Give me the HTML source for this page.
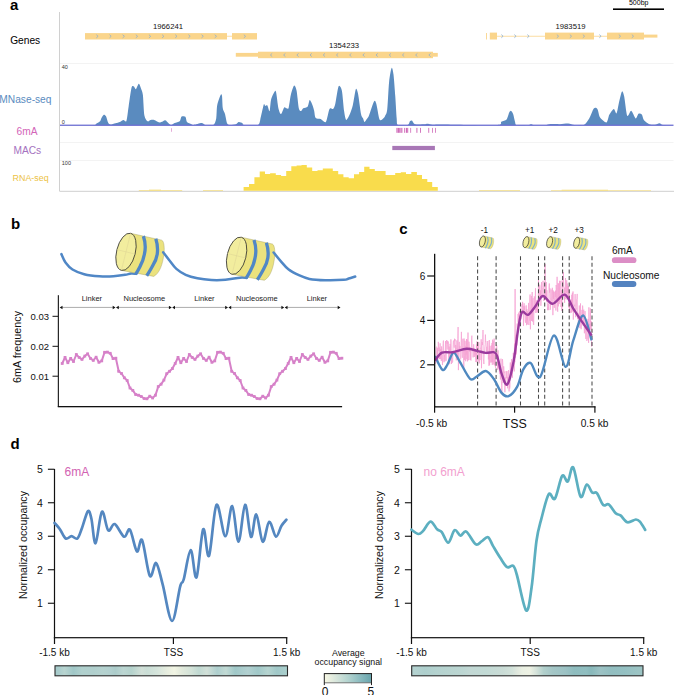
<!DOCTYPE html>
<html><head><meta charset="utf-8"><style>
html,body{margin:0;padding:0;background:#fff;}
svg{display:block;}
text{font-family:"Liberation Sans",sans-serif;}
</style></head><body>
<svg width="685" height="695" viewBox="0 0 685 695">
<rect width="685" height="695" fill="#fff"/>
<text x="10.00" y="9.70" font-size="15.00" fill="#000" text-anchor="start" font-weight="bold" >a</text>
<rect x="613" y="8.4" width="51" height="1.6" fill="#000"/>
<text x="638.70" y="5.30" font-size="7.00" fill="#000" text-anchor="middle" font-weight="normal" >500bp</text>
<text x="25.20" y="44.20" font-size="10.20" fill="#000" text-anchor="middle" font-weight="normal" >Genes</text>
<text x="25.40" y="103.30" font-size="10.20" fill="#5b8cc0" text-anchor="middle" font-weight="normal" >MNase-seq</text>
<text x="27.10" y="134.60" font-size="10.20" fill="#d365b8" text-anchor="middle" font-weight="normal" >6mA</text>
<text x="27.30" y="154.00" font-size="10.20" fill="#a572c0" text-anchor="middle" font-weight="normal" >MACs</text>
<text x="30.60" y="180.90" font-size="8.90" fill="#ecc244" text-anchor="middle" font-weight="normal" >RNA-seq</text>
<rect x="59" y="12" width="1" height="179.5" fill="#d0d0d0"/>
<rect x="60" y="63.0" width="613.5" height="0.8" fill="#f0f0f0"/>
<rect x="60" y="142.2" width="613.5" height="0.8" fill="#f0f0f0"/>
<rect x="60" y="160.0" width="613.5" height="0.8" fill="#f0f0f0"/>
<rect x="60" y="190.8" width="614" height="1" fill="#cfcfcf"/>
<text x="61.80" y="69.30" font-size="5.50" fill="#333" text-anchor="start" font-weight="normal" >40</text>
<text x="61.80" y="124.30" font-size="5.50" fill="#333" text-anchor="start" font-weight="normal" >0</text>
<text x="61.80" y="165.30" font-size="5.50" fill="#333" text-anchor="start" font-weight="normal" >100</text>
<rect x="226" y="35.8" width="6" height="0.8" fill="#fad58c"/>
<rect x="85" y="33.1" width="142" height="6.4" fill="#fad58c"/>
<rect x="232" y="33.1" width="25" height="6.4" fill="#fad58c"/>
<path d="M96.3,34.7 L98.1,36.3 L96.3,37.9 M109.5,34.7 L111.2,36.3 L109.5,37.9 M122.6,34.7 L124.4,36.3 L122.6,37.9 M135.8,34.7 L137.6,36.3 L135.8,37.9 M148.9,34.7 L150.7,36.3 L148.9,37.9 M162.1,34.7 L163.9,36.3 L162.1,37.9 M175.2,34.7 L177.0,36.3 L175.2,37.9 M188.4,34.7 L190.2,36.3 L188.4,37.9 M201.5,34.7 L203.3,36.3 L201.5,37.9 M214.7,34.7 L216.5,36.3 L214.7,37.9 " fill="none" stroke="#8aaed0" stroke-width="0.75"/>
<path d="M243.8,34.7 L245.6,36.3 L243.8,37.9 " fill="none" stroke="#8aaed0" stroke-width="0.75"/>
<text x="168.00" y="28.60" font-size="7.70" fill="#111" text-anchor="middle" font-weight="normal" >1966241</text>
<rect x="235.8" y="52.9" width="22.5" height="3.8" fill="#fad58c"/>
<rect x="258" y="51.7" width="175" height="6.5" fill="#fad58c"/>
<rect x="432" y="52.9" width="5.8" height="3.8" fill="#fad58c"/>
<path d="M272.2,53.4 L270.4,55.0 L272.2,56.6 M285.4,53.4 L283.6,55.0 L285.4,56.6 M298.6,53.4 L296.8,55.0 L298.6,56.6 M311.8,53.4 L310.0,55.0 L311.8,56.6 M325.0,53.4 L323.2,55.0 L325.0,56.6 M338.2,53.4 L336.4,55.0 L338.2,56.6 M351.4,53.4 L349.6,55.0 L351.4,56.6 M364.6,53.4 L362.8,55.0 L364.6,56.6 M377.8,53.4 L376.0,55.0 L377.8,56.6 M391.0,53.4 L389.2,55.0 L391.0,56.6 M404.2,53.4 L402.4,55.0 L404.2,56.6 M417.4,53.4 L415.6,55.0 L417.4,56.6 M430.6,53.4 L428.8,55.0 L430.6,56.6 " fill="none" stroke="#8aaed0" stroke-width="0.75"/>
<text x="344.00" y="47.50" font-size="7.70" fill="#111" text-anchor="middle" font-weight="normal" >1354233</text>
<rect x="486" y="33" width="0.9" height="6.5" fill="#fad58c"/>
<rect x="489.8" y="32.6" width="7.2" height="6.9" fill="#fad58c"/>
<rect x="497" y="35.8" width="110" height="0.8" fill="#fad58c"/>
<rect x="545" y="32.6" width="49" height="6.9" fill="#fad58c"/>
<rect x="607" y="32.6" width="37" height="6.9" fill="#fad58c"/>
<rect x="644" y="34.6" width="13.4" height="3.0" fill="#fad58c"/>
<path d="M501.3,34.6 L503.1,36.2 L501.3,37.8 M514.3,34.6 L516.1,36.2 L514.3,37.8 M527.3,34.6 L529.1,36.2 L527.3,37.8 " fill="none" stroke="#8aaed0" stroke-width="0.75"/>
<path d="M556.8,34.6 L558.6,36.2 L556.8,37.8 M569.8,34.6 L571.6,36.2 L569.8,37.8 M582.8,34.6 L584.6,36.2 L582.8,37.8 " fill="none" stroke="#8aaed0" stroke-width="0.75"/>
<path d="M599.3,34.6 L601.1,36.2 L599.3,37.8 " fill="none" stroke="#8aaed0" stroke-width="0.75"/>
<path d="M618.8,34.6 L620.6,36.2 L618.8,37.8 M631.8,34.6 L633.6,36.2 L631.8,37.8 " fill="none" stroke="#8aaed0" stroke-width="0.75"/>
<text x="570.50" y="28.50" font-size="7.70" fill="#111" text-anchor="middle" font-weight="normal" >1983519</text>
<path d="M60.00,125.20 C64.28,125.20 87.23,125.43 92.10,125.20 C96.97,124.97 95.43,124.02 96.50,123.50 C97.57,122.98 99.42,122.07 100.10,121.30 C100.78,120.53 101.11,118.58 101.60,117.70 C102.09,116.82 103.21,114.90 103.80,114.70 C104.39,114.50 105.41,115.12 106.00,116.20 C106.59,117.28 107.61,121.69 108.20,122.80 C108.79,123.91 109.43,124.45 110.40,124.50 C111.37,124.55 114.23,123.53 115.50,123.20 C116.77,122.87 118.83,122.41 119.90,122.00 C120.97,121.59 122.63,120.23 123.50,120.10 C124.37,119.97 125.72,122.79 126.40,121.00 C127.08,119.21 127.92,111.14 128.60,106.70 C129.28,102.26 130.82,90.42 131.50,87.70 C132.18,84.98 133.11,86.10 133.70,86.30 C134.29,86.50 135.22,89.53 135.90,89.20 C136.58,88.87 138.12,83.89 138.80,83.80 C139.48,83.71 140.45,87.01 141.00,88.50 C141.55,89.99 142.45,91.40 142.90,95.00 C143.35,98.60 143.77,111.99 144.40,115.50 C145.03,119.01 146.79,120.69 147.60,121.30 C148.41,121.91 149.62,120.29 150.50,120.10 C151.38,119.91 152.93,119.58 154.20,119.90 C155.47,120.22 158.55,122.45 160.00,122.50 C161.45,122.55 164.13,120.37 165.10,120.30 C166.07,120.23 166.53,121.37 167.30,122.00 C168.07,122.63 169.93,124.85 170.90,125.00 C171.87,125.15 173.43,123.59 174.60,123.10 C175.77,122.61 178.77,122.17 179.70,121.30 C180.63,120.43 180.83,117.19 181.60,116.60 C182.37,116.01 184.78,116.18 185.50,116.90 C186.22,117.62 186.21,121.03 187.00,122.00 C187.79,122.97 190.52,123.79 191.40,124.20 C192.28,124.61 192.24,125.25 193.60,125.10 C194.96,124.95 200.04,123.11 201.60,123.10 C203.16,123.09 203.74,124.75 205.30,125.00 C206.86,125.25 211.85,125.88 213.30,125.00 C214.75,124.12 215.68,121.03 216.20,118.40 C216.72,115.77 216.61,108.42 217.20,105.30 C217.79,102.18 219.96,96.27 220.60,95.00 C221.24,93.73 221.71,94.04 222.00,95.80 C222.29,97.56 222.40,105.77 222.80,108.20 C223.20,110.63 224.41,111.96 225.00,114.00 C225.59,116.04 226.53,122.03 227.20,123.50 C227.87,124.97 228.84,124.91 230.00,125.00 C231.16,125.09 234.73,124.60 235.90,124.20 C237.07,123.80 237.92,122.13 238.80,122.00 C239.68,121.87 241.81,122.80 242.50,123.20 C243.19,123.60 241.95,124.76 244.00,125.00 C246.05,125.24 255.66,126.07 257.90,125.00 C260.14,123.93 260.01,119.73 260.80,117.00 C261.59,114.27 263.21,105.97 263.80,104.50 C264.39,103.03 264.72,105.87 265.20,106.00 C265.68,106.13 266.81,104.82 267.40,105.50 C267.99,106.18 269.11,111.91 269.60,111.10 C270.09,110.29 270.42,102.03 271.10,99.40 C271.78,96.77 274.02,92.28 274.70,91.40 C275.38,90.52 275.71,90.56 276.20,92.80 C276.69,95.04 277.76,105.37 278.40,108.20 C279.04,111.03 280.23,114.11 281.00,114.00 C281.77,113.89 283.48,108.17 284.20,107.40 C284.92,106.63 285.81,108.13 286.40,108.20 C286.99,108.27 288.01,109.66 288.60,107.90 C289.19,106.14 290.07,97.99 290.80,95.00 C291.53,92.01 293.33,86.07 294.10,85.50 C294.87,84.93 295.97,87.67 296.60,90.70 C297.23,93.73 298.21,105.48 298.80,108.20 C299.39,110.92 300.41,111.10 301.00,111.10 C301.59,111.10 302.32,108.79 303.20,108.20 C304.08,107.61 306.73,107.78 307.60,106.70 C308.47,105.62 309.13,100.49 309.70,100.10 C310.27,99.71 311.31,102.43 311.90,103.80 C312.49,105.17 313.61,108.55 314.10,110.40 C314.59,112.25 314.72,116.54 315.60,117.70 C316.48,118.86 319.34,118.53 320.70,119.10 C322.06,119.67 324.63,123.36 325.80,122.00 C326.97,120.64 328.53,110.65 329.50,108.90 C330.47,107.15 332.33,109.58 333.10,108.90 C333.87,108.22 334.57,106.81 335.30,103.80 C336.03,100.79 337.72,88.05 338.60,86.30 C339.48,84.55 341.17,87.39 341.90,90.70 C342.63,94.01 343.53,107.21 344.10,111.10 C344.67,114.99 345.43,119.51 346.20,119.90 C346.97,120.29 349.02,115.95 349.90,114.00 C350.78,112.05 352.01,108.61 352.80,105.30 C353.59,101.99 355.11,90.76 355.80,89.20 C356.49,87.64 357.31,90.29 358.00,93.60 C358.69,96.91 360.32,110.69 361.00,114.00 C361.68,117.31 362.62,117.33 363.10,118.40 C363.58,119.47 364.11,121.91 364.60,122.00 C365.09,122.09 366.21,119.97 366.80,119.10 C367.39,118.23 368.03,117.87 369.00,115.50 C369.97,113.13 373.13,102.86 374.10,101.30 C375.07,99.74 375.62,101.52 376.30,103.80 C376.98,106.08 378.52,116.23 379.20,118.40 C379.88,120.57 380.63,120.39 381.40,120.10 C382.17,119.81 384.23,117.60 385.00,116.20 C385.77,114.80 386.65,114.17 387.20,109.60 C387.75,105.03 388.51,87.45 389.10,81.90 C389.69,76.35 391.01,68.97 391.60,68.00 C392.19,67.03 393.01,70.80 393.50,74.60 C393.99,78.40 394.87,90.66 395.30,96.50 C395.73,102.34 396.35,114.60 396.70,118.40 C397.05,122.20 396.43,124.12 397.90,125.00 C399.37,125.88 406.10,125.49 407.70,125.00 C409.30,124.51 409.33,121.89 409.90,121.30 C410.47,120.71 411.32,120.21 412.00,120.60 C412.68,120.99 413.24,123.72 415.00,124.20 C416.76,124.68 423.45,124.25 425.20,124.20 C426.95,124.15 427.13,123.72 428.10,123.80 C429.07,123.88 430.65,124.71 432.50,124.80 C434.35,124.89 433.53,124.45 442.00,124.50 C450.47,124.55 488.09,125.57 496.00,125.20 C503.91,124.83 499.89,122.45 501.30,121.70 C502.71,120.95 505.55,120.81 506.60,119.60 C507.65,118.39 508.61,113.77 509.20,112.60 C509.79,111.43 510.47,110.57 511.00,110.80 C511.53,111.03 512.67,112.85 513.20,114.30 C513.73,115.75 514.53,120.25 515.00,121.70 C515.47,123.15 515.02,124.73 516.70,125.20 C518.38,125.67 525.68,125.32 527.60,125.20 C529.52,125.08 530.17,124.30 531.10,124.30 C532.03,124.30 532.73,125.08 534.60,125.20 C536.47,125.32 542.99,125.35 545.10,125.20 C547.21,125.05 548.41,124.23 550.40,124.10 C552.39,123.97 557.63,124.28 560.00,124.20 C562.37,124.12 566.25,123.38 568.20,123.50 C570.15,123.62 572.53,124.89 574.60,125.10 C576.67,125.31 581.75,125.99 583.70,125.10 C585.65,124.21 587.85,120.63 589.20,118.40 C590.55,116.17 592.71,109.67 593.80,108.40 C594.89,107.13 596.56,107.69 597.40,108.90 C598.24,110.11 598.89,115.70 600.10,117.50 C601.31,119.30 605.27,122.77 606.50,122.40 C607.73,122.03 608.33,116.50 609.30,114.70 C610.27,112.90 612.83,109.09 613.80,108.90 C614.77,108.71 615.87,114.34 616.60,113.30 C617.33,112.26 618.58,104.02 619.30,101.10 C620.02,98.18 621.35,92.01 622.00,91.40 C622.65,90.79 623.51,93.26 624.20,96.50 C624.89,99.74 626.27,113.81 627.20,115.70 C628.13,117.59 630.07,110.34 631.20,110.70 C632.33,111.06 634.73,117.99 635.70,118.40 C636.67,118.81 637.69,114.33 638.50,113.80 C639.31,113.27 641.07,113.55 641.80,114.40 C642.53,115.25 642.99,118.89 644.00,120.20 C645.01,121.51 647.95,123.59 649.40,124.20 C650.85,124.81 653.55,124.92 654.90,124.80 C656.25,124.68 658.41,123.26 659.50,123.30 C660.59,123.34 661.23,124.85 663.10,125.10 C664.97,125.35 672.11,125.19 673.50,125.20 L673.5,125.2 L60,125.2 Z" fill="#5a8bbf"/>
<rect x="60" y="124.6" width="613.5" height="1.3" fill="#6d6fd2"/>
<rect x="396.4" y="127.9" width="1.2" height="4.9" fill="#cf6ab8"/>
<rect x="397.8" y="127.9" width="1.2" height="4.9" fill="#cf6ab8"/>
<rect x="399.2" y="127.9" width="1.2" height="4.9" fill="#cf6ab8"/>
<rect x="400.6" y="127.9" width="1.0" height="4.9" fill="#cf6ab8"/>
<rect x="401.6" y="127.9" width="0.8" height="4.9" fill="#cf6ab8"/>
<rect x="404.2" y="127.9" width="1.0" height="4.9" fill="#cf6ab8"/>
<rect x="406.0" y="127.9" width="1.0" height="4.9" fill="#cf6ab8"/>
<rect x="407.2" y="127.9" width="1.0" height="4.9" fill="#cf6ab8"/>
<rect x="410.3" y="127.9" width="0.8" height="4.9" fill="#cf6ab8"/>
<rect x="416.4" y="127.9" width="1.0" height="4.9" fill="#cf6ab8"/>
<rect x="420.0" y="127.9" width="0.9" height="4.9" fill="#cf6ab8"/>
<rect x="428.3" y="127.9" width="0.9" height="4.9" fill="#cf6ab8"/>
<rect x="432.1" y="127.9" width="0.8" height="4.9" fill="#cf6ab8"/>
<rect x="435.2" y="127.9" width="0.8" height="4.9" fill="#cf6ab8"/>
<rect x="171.2" y="128.2" width="0.7" height="3.6" fill="#d98ac8"/>
<rect x="392.3" y="145.9" width="42.6" height="4.2" fill="#a877b6"/>
<path d="M243.6,190.8 L243.6,187.1 L249.0,187.1 L249.0,183.9 L254.4,183.9 L254.4,177.2 L259.7,177.2 L259.7,171.5 L265.0,171.5 L265.0,174.0 L270.1,174.0 L270.1,173.3 L275.8,173.3 L275.8,175.1 L281.1,175.1 L281.1,175.9 L286.2,175.9 L286.2,171.1 L291.3,171.1 L291.3,166.2 L296.6,166.2 L296.6,165.4 L301.5,165.4 L301.5,165.1 L306.8,165.1 L306.8,167.5 L312.2,167.5 L312.2,171.1 L317.5,171.1 L317.5,170.3 L322.8,170.3 L322.8,168.6 L332.8,168.6 L332.8,171.1 L338.2,171.1 L338.2,174.3 L343.4,174.3 L343.4,177.2 L348.7,177.2 L348.7,178.3 L354.0,178.3 L354.0,174.3 L359.1,174.3 L359.1,171.9 L364.2,171.9 L364.2,166.7 L369.5,166.7 L369.5,169.1 L374.8,169.1 L374.8,171.1 L385.6,171.1 L385.6,175.1 L395.2,175.1 L395.2,173.0 L400.8,173.0 L400.8,172.3 L406.0,172.3 L406.0,174.0 L411.3,174.0 L411.3,171.9 L416.9,171.9 L416.9,175.1 L422.0,175.1 L422.0,179.1 L427.3,179.1 L427.3,182.0 L432.2,182.0 L432.2,187.1 L437.8,187.1 L437.8,190.8 Z" fill="#f9dc4c"/>
<rect x="138.8" y="190.0" width="43.4" height="0.8" fill="#f6e08a"/>
<rect x="149.0" y="189.6" width="12.0" height="1.2" fill="#f6e08a"/>
<rect x="203.0" y="190.0" width="20.0" height="0.8" fill="#f6e08a"/>
<rect x="479.0" y="190.0" width="41.0" height="0.8" fill="#f6e08a"/>
<rect x="551.0" y="190.1" width="100.0" height="0.7" fill="#f6e08a"/>
<rect x="561.6" y="189.7" width="46.4" height="1.1" fill="#f6e08a"/>
<text x="11.00" y="228.50" font-size="15.00" fill="#000" text-anchor="start" font-weight="bold" >b</text>
<path d="M61.40,254.10 C62.08,255.50 63.65,259.93 65.50,262.50 C67.35,265.07 69.38,267.55 72.50,269.50 C75.62,271.45 79.72,273.07 84.20,274.20 C88.68,275.33 94.53,275.95 99.40,276.30 C104.27,276.65 109.13,276.55 113.40,276.30 C117.67,276.05 122.07,275.25 125.00,274.80 C127.93,274.35 129.17,273.77 131.00,273.60 C132.83,273.43 135.17,273.77 136.00,273.80" fill="none" stroke="#5087c6" stroke-width="2.5" stroke-linecap="round"/>
<g transform="translate(0.00,0.00)"><path d="M130.6,233.3 L161.9,240.2 C164.3,241.6 164.6,249 163.9,254 C162.8,264 159.5,273.5 153.7,276.4 L121.5,270.4 Z" fill="#ebe27e" stroke="#a8a46a" stroke-width="0.45"/><path d="M143.4,236.1 C145.4,242 145.6,249 144.4,254.2 C143.6,258.5 142.2,262.5 140.3,265.9 C139,268.5 137.5,271.5 135.6,274.2 M155.8,238.8 C157.5,244 157.9,249.5 157.2,254.2 C156.6,258.5 154.8,262.5 152.6,265.9 C151,268.8 149,272.5 146.7,275.8" fill="none" stroke="#5087c6" stroke-width="3.3"/><ellipse cx="126" cy="251.85" rx="9.37" ry="19.08" transform="rotate(14 126 251.85)" fill="#f2ed9e" stroke="#2a2a2a" stroke-width="0.75"/><path d="M130.6,233.3 L121.4,270.4 M116.9,249.6 L135.1,254.1" stroke="#dcd294" stroke-width="0.5"/></g>
<path d="M163.20,252.20 C164.22,253.53 167.10,257.42 169.30,260.20 C171.50,262.98 173.67,266.47 176.40,268.90 C179.13,271.33 182.20,273.23 185.70,274.80 C189.20,276.37 193.12,277.43 197.40,278.30 C201.68,279.17 206.73,279.75 211.40,280.00 C216.07,280.25 220.63,280.18 225.40,279.80 C230.17,279.42 236.48,278.02 240.00,277.70 C243.52,277.38 245.42,277.87 246.50,277.90" fill="none" stroke="#5087c6" stroke-width="2.5" stroke-linecap="round"/>
<g transform="translate(110.60,3.90)"><path d="M130.6,233.3 L161.9,240.2 C164.3,241.6 164.6,249 163.9,254 C162.8,264 159.5,273.5 153.7,276.4 L121.5,270.4 Z" fill="#ebe27e" stroke="#a8a46a" stroke-width="0.45"/><path d="M143.4,236.1 C145.4,242 145.6,249 144.4,254.2 C143.6,258.5 142.2,262.5 140.3,265.9 C139,268.5 137.5,271.5 135.6,274.2 M155.8,238.8 C157.5,244 157.9,249.5 157.2,254.2 C156.6,258.5 154.8,262.5 152.6,265.9 C151,268.8 149,272.5 146.7,275.8" fill="none" stroke="#5087c6" stroke-width="3.3"/><ellipse cx="126" cy="251.85" rx="9.37" ry="19.08" transform="rotate(14 126 251.85)" fill="#f2ed9e" stroke="#2a2a2a" stroke-width="0.75"/><path d="M130.6,233.3 L121.4,270.4 M116.9,249.6 L135.1,254.1" stroke="#dcd294" stroke-width="0.5"/></g>
<path d="M273.60,252.50 C274.75,253.88 278.03,258.00 280.50,260.80 C282.97,263.60 285.33,266.90 288.40,269.30 C291.47,271.70 295.40,273.60 298.90,275.20 C302.40,276.80 305.02,278.07 309.40,278.90 C313.78,279.73 319.50,280.05 325.20,280.20 C330.90,280.35 339.67,280.08 343.60,279.80 C347.53,279.52 346.87,279.05 348.80,278.50 C350.73,277.95 354.13,276.83 355.20,276.50" fill="none" stroke="#5087c6" stroke-width="2.5" stroke-linecap="round"/>
<rect x="57.8" y="295.2" width="1.1" height="111.8" fill="#111"/>
<rect x="57.8" y="406" width="284.3" height="1.3" fill="#111"/>
<rect x="52.5" y="315.8" width="5.5" height="1.0" fill="#111"/>
<text x="49.00" y="319.70" font-size="9.50" fill="#111" text-anchor="end" font-weight="normal" >0.03</text>
<rect x="52.5" y="345.8" width="5.5" height="1.0" fill="#111"/>
<text x="49.00" y="349.70" font-size="9.50" fill="#111" text-anchor="end" font-weight="normal" >0.02</text>
<rect x="52.5" y="375.7" width="5.5" height="1.0" fill="#111"/>
<text x="49.00" y="379.60" font-size="9.50" fill="#111" text-anchor="end" font-weight="normal" >0.01</text>
<text transform="translate(21.3,346.9) rotate(-90)" font-size="10.8" text-anchor="middle" fill="#111">6mA frequency</text>
<rect x="61.7" y="306.9" width="51.8" height="1.1" fill="#b4b4b4"/>
<path d="M59.7,307.5 L62.5,305.8 L62.5,309.2 Z M115.5,307.5 L112.7,305.8 L112.7,309.2 Z" fill="#111"/>
<text x="91.90" y="300.90" font-size="7.50" fill="#222" text-anchor="middle" font-weight="normal" >Linker</text>
<rect x="118.0" y="306.9" width="51.8" height="1.1" fill="#b4b4b4"/>
<path d="M116.0,307.5 L118.8,305.8 L118.8,309.2 Z M171.8,307.5 L168.9,305.8 L168.9,309.2 Z" fill="#111"/>
<text x="144.35" y="300.90" font-size="7.50" fill="#222" text-anchor="middle" font-weight="normal" >Nucleosome</text>
<rect x="174.2" y="306.9" width="51.8" height="1.1" fill="#b4b4b4"/>
<path d="M172.2,307.5 L175.0,305.8 L175.0,309.2 Z M228.0,307.5 L225.2,305.8 L225.2,309.2 Z" fill="#111"/>
<text x="204.40" y="300.90" font-size="7.50" fill="#222" text-anchor="middle" font-weight="normal" >Linker</text>
<rect x="230.4" y="306.9" width="51.8" height="1.1" fill="#b4b4b4"/>
<path d="M228.4,307.5 L231.2,305.8 L231.2,309.2 Z M284.2,307.5 L281.4,305.8 L281.4,309.2 Z" fill="#111"/>
<text x="256.85" y="300.90" font-size="7.50" fill="#222" text-anchor="middle" font-weight="normal" >Nucleosome</text>
<rect x="286.7" y="306.9" width="51.8" height="1.1" fill="#b4b4b4"/>
<path d="M284.7,307.5 L287.5,305.8 L287.5,309.2 Z M340.5,307.5 L337.7,305.8 L337.7,309.2 Z" fill="#111"/>
<text x="316.90" y="300.90" font-size="7.50" fill="#222" text-anchor="middle" font-weight="normal" >Linker</text>
<path d="M62.20,363.50 L65.03,357.40 L67.85,362.70 L70.68,358.40 L73.50,361.50 L76.33,354.50 L79.15,357.40 L81.98,359.40 L84.80,356.10 L87.62,353.80 L90.45,358.40 L93.28,360.40 L96.10,357.20 L98.93,362.30 L101.75,360.90 L104.58,352.30 L107.40,352.10 L110.23,353.30 L113.05,358.60 L115.88,358.20 L118.70,371.30 L121.53,373.50 L124.35,377.80 L127.18,380.50 L130.00,388.00 L132.82,390.40 L135.65,394.50 L138.48,395.20 L141.30,396.50 L144.12,398.50 L146.95,398.80 L149.78,396.20 L152.60,398.00 L155.43,395.20 L158.25,386.60 L161.07,384.20 L163.90,380.10 L166.73,373.70 L169.55,371.30 L172.38,368.60 L175.20,363.50 L178.03,357.40 L180.85,362.70 L183.68,358.40 L186.50,361.50 L189.33,354.50 L192.15,357.40 L194.98,359.40 L197.80,356.10 L200.62,353.80 L203.45,358.40 L206.28,360.40 L209.10,357.20 L211.93,362.30 L214.75,360.90 L217.57,352.30 L220.40,352.10 L223.23,353.30 L226.05,358.60 L228.88,358.20 L231.70,371.30 L234.53,373.50 L237.35,377.80 L240.18,380.50 L243.00,388.00 L245.82,390.40 L248.65,394.50 L251.48,395.20 L254.30,396.50 L257.12,398.50 L259.95,398.80 L262.78,396.20 L265.60,398.00 L268.43,395.20 L271.25,386.60 L274.07,384.20 L276.90,380.10 L279.73,373.70 L282.55,371.30 L285.38,368.60 L288.20,363.50 L291.03,357.40 L293.85,362.70 L296.68,358.40 L299.50,361.50 L302.33,354.50 L305.15,357.40 L307.98,359.40 L310.80,356.10 L313.62,353.80 L316.45,358.40 L319.27,360.40 L322.10,357.20 L324.93,362.30 L327.75,360.90 L330.57,352.30 L333.40,352.10 L336.23,353.30 L339.05,358.60 L341.88,358.20" fill="none" stroke="#d681c8" stroke-width="2.0" stroke-linejoin="round"/>
<g fill="#d681c8"><rect x="60.80" y="362.10" width="2.8" height="2.8"/><rect x="63.63" y="356.00" width="2.8" height="2.8"/><rect x="66.45" y="361.30" width="2.8" height="2.8"/><rect x="69.28" y="357.00" width="2.8" height="2.8"/><rect x="72.10" y="360.10" width="2.8" height="2.8"/><rect x="74.92" y="353.10" width="2.8" height="2.8"/><rect x="77.75" y="356.00" width="2.8" height="2.8"/><rect x="80.58" y="358.00" width="2.8" height="2.8"/><rect x="83.40" y="354.70" width="2.8" height="2.8"/><rect x="86.22" y="352.40" width="2.8" height="2.8"/><rect x="89.05" y="357.00" width="2.8" height="2.8"/><rect x="91.88" y="359.00" width="2.8" height="2.8"/><rect x="94.70" y="355.80" width="2.8" height="2.8"/><rect x="97.53" y="360.90" width="2.8" height="2.8"/><rect x="100.35" y="359.50" width="2.8" height="2.8"/><rect x="103.17" y="350.90" width="2.8" height="2.8"/><rect x="106.00" y="350.70" width="2.8" height="2.8"/><rect x="108.83" y="351.90" width="2.8" height="2.8"/><rect x="111.65" y="357.20" width="2.8" height="2.8"/><rect x="114.47" y="356.80" width="2.8" height="2.8"/><rect x="117.30" y="369.90" width="2.8" height="2.8"/><rect x="120.12" y="372.10" width="2.8" height="2.8"/><rect x="122.95" y="376.40" width="2.8" height="2.8"/><rect x="125.78" y="379.10" width="2.8" height="2.8"/><rect x="128.60" y="386.60" width="2.8" height="2.8"/><rect x="131.42" y="389.00" width="2.8" height="2.8"/><rect x="134.25" y="393.10" width="2.8" height="2.8"/><rect x="137.08" y="393.80" width="2.8" height="2.8"/><rect x="139.90" y="395.10" width="2.8" height="2.8"/><rect x="142.72" y="397.10" width="2.8" height="2.8"/><rect x="145.55" y="397.40" width="2.8" height="2.8"/><rect x="148.38" y="394.80" width="2.8" height="2.8"/><rect x="151.20" y="396.60" width="2.8" height="2.8"/><rect x="154.03" y="393.80" width="2.8" height="2.8"/><rect x="156.85" y="385.20" width="2.8" height="2.8"/><rect x="159.67" y="382.80" width="2.8" height="2.8"/><rect x="162.50" y="378.70" width="2.8" height="2.8"/><rect x="165.33" y="372.30" width="2.8" height="2.8"/><rect x="168.15" y="369.90" width="2.8" height="2.8"/><rect x="170.97" y="367.20" width="2.8" height="2.8"/><rect x="173.80" y="362.10" width="2.8" height="2.8"/><rect x="176.62" y="356.00" width="2.8" height="2.8"/><rect x="179.45" y="361.30" width="2.8" height="2.8"/><rect x="182.28" y="357.00" width="2.8" height="2.8"/><rect x="185.10" y="360.10" width="2.8" height="2.8"/><rect x="187.93" y="353.10" width="2.8" height="2.8"/><rect x="190.75" y="356.00" width="2.8" height="2.8"/><rect x="193.58" y="358.00" width="2.8" height="2.8"/><rect x="196.40" y="354.70" width="2.8" height="2.8"/><rect x="199.22" y="352.40" width="2.8" height="2.8"/><rect x="202.05" y="357.00" width="2.8" height="2.8"/><rect x="204.88" y="359.00" width="2.8" height="2.8"/><rect x="207.70" y="355.80" width="2.8" height="2.8"/><rect x="210.53" y="360.90" width="2.8" height="2.8"/><rect x="213.35" y="359.50" width="2.8" height="2.8"/><rect x="216.17" y="350.90" width="2.8" height="2.8"/><rect x="219.00" y="350.70" width="2.8" height="2.8"/><rect x="221.83" y="351.90" width="2.8" height="2.8"/><rect x="224.65" y="357.20" width="2.8" height="2.8"/><rect x="227.47" y="356.80" width="2.8" height="2.8"/><rect x="230.30" y="369.90" width="2.8" height="2.8"/><rect x="233.13" y="372.10" width="2.8" height="2.8"/><rect x="235.95" y="376.40" width="2.8" height="2.8"/><rect x="238.78" y="379.10" width="2.8" height="2.8"/><rect x="241.60" y="386.60" width="2.8" height="2.8"/><rect x="244.42" y="389.00" width="2.8" height="2.8"/><rect x="247.25" y="393.10" width="2.8" height="2.8"/><rect x="250.08" y="393.80" width="2.8" height="2.8"/><rect x="252.90" y="395.10" width="2.8" height="2.8"/><rect x="255.72" y="397.10" width="2.8" height="2.8"/><rect x="258.55" y="397.40" width="2.8" height="2.8"/><rect x="261.38" y="394.80" width="2.8" height="2.8"/><rect x="264.20" y="396.60" width="2.8" height="2.8"/><rect x="267.03" y="393.80" width="2.8" height="2.8"/><rect x="269.85" y="385.20" width="2.8" height="2.8"/><rect x="272.68" y="382.80" width="2.8" height="2.8"/><rect x="275.50" y="378.70" width="2.8" height="2.8"/><rect x="278.33" y="372.30" width="2.8" height="2.8"/><rect x="281.15" y="369.90" width="2.8" height="2.8"/><rect x="283.98" y="367.20" width="2.8" height="2.8"/><rect x="286.80" y="362.10" width="2.8" height="2.8"/><rect x="289.63" y="356.00" width="2.8" height="2.8"/><rect x="292.45" y="361.30" width="2.8" height="2.8"/><rect x="295.28" y="357.00" width="2.8" height="2.8"/><rect x="298.10" y="360.10" width="2.8" height="2.8"/><rect x="300.93" y="353.10" width="2.8" height="2.8"/><rect x="303.75" y="356.00" width="2.8" height="2.8"/><rect x="306.58" y="358.00" width="2.8" height="2.8"/><rect x="309.40" y="354.70" width="2.8" height="2.8"/><rect x="312.23" y="352.40" width="2.8" height="2.8"/><rect x="315.05" y="357.00" width="2.8" height="2.8"/><rect x="317.88" y="359.00" width="2.8" height="2.8"/><rect x="320.70" y="355.80" width="2.8" height="2.8"/><rect x="323.53" y="360.90" width="2.8" height="2.8"/><rect x="326.35" y="359.50" width="2.8" height="2.8"/><rect x="329.18" y="350.90" width="2.8" height="2.8"/><rect x="332.00" y="350.70" width="2.8" height="2.8"/><rect x="334.83" y="351.90" width="2.8" height="2.8"/><rect x="337.65" y="357.20" width="2.8" height="2.8"/><rect x="340.48" y="356.80" width="2.8" height="2.8"/></g>
<text x="399.20" y="233.60" font-size="15.00" fill="#000" text-anchor="start" font-weight="bold" >c</text>
<g transform="translate(479.40,236.00) scale(0.295) translate(-115.8,-233.2)"><path d="M130.6,233.3 L161.9,240.2 C164.3,241.6 164.6,249 163.9,254 C162.8,264 159.5,273.5 153.7,276.4 L121.5,270.4 Z" fill="#ece47e" stroke="#a8a46a" stroke-width="1.2"/><path d="M143.4,236.1 C145.4,242 145.6,249 144.4,254.2 C143.6,258.5 142.2,262.5 140.3,265.9 C139,268.5 137.5,271.5 135.6,274.2 M155.8,238.8 C157.5,244 157.9,249.5 157.2,254.2 C156.6,258.5 154.8,262.5 152.6,265.9 C151,268.8 149,272.5 146.7,275.8" fill="none" stroke="#7fb0cc" stroke-width="4"/><ellipse cx="126" cy="251.85" rx="9.37" ry="19.08" transform="rotate(14 126 251.85)" fill="#f2ed9e" stroke="#2a2a2a" stroke-width="2.2"/></g>
<text x="484.40" y="232.80" font-size="8.20" fill="#111" text-anchor="middle" font-weight="normal" >-1</text>
<g transform="translate(522.90,236.60) scale(0.295) translate(-115.8,-233.2)"><path d="M130.6,233.3 L161.9,240.2 C164.3,241.6 164.6,249 163.9,254 C162.8,264 159.5,273.5 153.7,276.4 L121.5,270.4 Z" fill="#ece47e" stroke="#a8a46a" stroke-width="1.2"/><path d="M143.4,236.1 C145.4,242 145.6,249 144.4,254.2 C143.6,258.5 142.2,262.5 140.3,265.9 C139,268.5 137.5,271.5 135.6,274.2 M155.8,238.8 C157.5,244 157.9,249.5 157.2,254.2 C156.6,258.5 154.8,262.5 152.6,265.9 C151,268.8 149,272.5 146.7,275.8" fill="none" stroke="#7fb0cc" stroke-width="4"/><ellipse cx="126" cy="251.85" rx="9.37" ry="19.08" transform="rotate(14 126 251.85)" fill="#f2ed9e" stroke="#2a2a2a" stroke-width="2.2"/></g>
<text x="529.60" y="232.80" font-size="8.20" fill="#111" text-anchor="middle" font-weight="normal" >+1</text>
<g transform="translate(546.60,236.60) scale(0.295) translate(-115.8,-233.2)"><path d="M130.6,233.3 L161.9,240.2 C164.3,241.6 164.6,249 163.9,254 C162.8,264 159.5,273.5 153.7,276.4 L121.5,270.4 Z" fill="#ece47e" stroke="#a8a46a" stroke-width="1.2"/><path d="M143.4,236.1 C145.4,242 145.6,249 144.4,254.2 C143.6,258.5 142.2,262.5 140.3,265.9 C139,268.5 137.5,271.5 135.6,274.2 M155.8,238.8 C157.5,244 157.9,249.5 157.2,254.2 C156.6,258.5 154.8,262.5 152.6,265.9 C151,268.8 149,272.5 146.7,275.8" fill="none" stroke="#7fb0cc" stroke-width="4"/><ellipse cx="126" cy="251.85" rx="9.37" ry="19.08" transform="rotate(14 126 251.85)" fill="#f2ed9e" stroke="#2a2a2a" stroke-width="2.2"/></g>
<text x="553.10" y="232.80" font-size="8.20" fill="#111" text-anchor="middle" font-weight="normal" >+2</text>
<g transform="translate(573.60,237.20) scale(0.295) translate(-115.8,-233.2)"><path d="M130.6,233.3 L161.9,240.2 C164.3,241.6 164.6,249 163.9,254 C162.8,264 159.5,273.5 153.7,276.4 L121.5,270.4 Z" fill="#ece47e" stroke="#a8a46a" stroke-width="1.2"/><path d="M143.4,236.1 C145.4,242 145.6,249 144.4,254.2 C143.6,258.5 142.2,262.5 140.3,265.9 C139,268.5 137.5,271.5 135.6,274.2 M155.8,238.8 C157.5,244 157.9,249.5 157.2,254.2 C156.6,258.5 154.8,262.5 152.6,265.9 C151,268.8 149,272.5 146.7,275.8" fill="none" stroke="#7fb0cc" stroke-width="4"/><ellipse cx="126" cy="251.85" rx="9.37" ry="19.08" transform="rotate(14 126 251.85)" fill="#f2ed9e" stroke="#2a2a2a" stroke-width="2.2"/></g>
<text x="579.20" y="232.80" font-size="8.20" fill="#111" text-anchor="middle" font-weight="normal" >+3</text>
<path d="M435.30,355.49 L435.60,363.66 L435.90,360.33 L436.20,347.57 L436.50,346.70 L436.80,347.21 L437.10,356.10 L437.40,347.94 L437.70,360.70 L438.00,359.06 L438.30,341.84 L438.60,347.14 L438.90,351.07 L439.20,347.42 L439.50,359.00 L439.80,356.29 L440.10,343.27 L440.40,359.07 L440.70,349.22 L441.00,352.50 L441.30,361.03 L441.60,346.39 L441.90,353.37 L442.20,358.56 L442.50,365.07 L442.80,350.44 L443.10,343.51 L443.40,340.57 L443.70,359.41 L444.00,362.29 L444.30,357.59 L444.60,354.58 L444.90,361.33 L445.20,351.81 L445.50,341.05 L445.80,356.28 L446.10,360.82 L446.40,349.46 L446.70,340.01 L447.00,343.78 L447.30,340.93 L447.60,342.75 L447.90,349.54 L448.20,341.46 L448.50,353.64 L448.80,360.64 L449.10,346.57 L449.40,348.65 L449.70,364.21 L450.00,343.88 L450.30,345.35 L450.60,354.59 L450.90,339.37 L451.20,348.85 L451.50,364.02 L451.80,352.63 L452.10,356.80 L452.40,362.60 L452.70,361.91 L453.00,349.30 L453.30,341.72 L453.60,340.57 L453.90,344.30 L454.20,347.64 L454.50,338.73 L454.80,341.29 L455.10,339.24 L455.40,354.47 L455.70,344.98 L456.00,347.82 L456.30,360.35 L456.60,350.32 L456.90,340.36 L457.20,346.96 L457.50,359.53 L457.80,338.50 L458.10,327.00 L458.40,370.11 L458.70,360.12 L459.00,344.39 L459.30,341.87 L459.60,351.30 L459.90,345.95 L460.20,358.40 L460.50,359.39 L460.80,358.43 L461.10,342.97 L461.40,331.86 L461.70,349.20 L462.00,352.58 L462.30,357.80 L462.60,345.79 L462.90,338.72 L463.20,348.77 L463.50,349.02 L463.80,367.60 L464.10,338.53 L464.40,359.90 L464.70,355.68 L465.00,340.74 L465.30,344.67 L465.60,361.21 L465.90,346.31 L466.20,354.64 L466.50,339.03 L466.80,359.27 L467.10,339.60 L467.40,361.35 L467.70,345.03 L468.00,332.56 L468.30,360.31 L468.60,358.77 L468.90,341.65 L469.20,343.84 L469.50,351.53 L469.80,347.23 L470.10,360.06 L470.40,348.37 L470.70,360.03 L471.00,360.44 L471.30,350.47 L471.60,337.19 L471.90,335.64 L472.20,349.13 L472.50,351.35 L472.80,350.42 L473.10,357.39 L473.40,351.63 L473.70,344.32 L474.00,350.38 L474.30,357.00 L474.60,348.82 L474.90,350.50 L475.20,355.43 L475.50,351.35 L475.80,362.02 L476.10,360.39 L476.40,344.41 L476.70,362.24 L477.00,341.35 L477.30,349.34 L477.60,344.18 L477.90,355.40 L478.20,361.39 L478.50,356.76 L478.80,341.93 L479.10,363.44 L479.40,363.12 L479.70,351.10 L480.00,360.14 L480.30,349.79 L480.60,347.46 L480.90,347.00 L481.20,339.30 L481.50,368.23 L481.80,346.62 L482.10,341.94 L482.40,345.02 L482.70,341.34 L483.00,330.00 L483.30,358.95 L483.60,361.46 L483.90,364.04 L484.20,353.47 L484.50,352.45 L484.80,346.91 L485.10,344.50 L485.40,334.59 L485.70,342.05 L486.00,341.61 L486.30,351.65 L486.60,354.21 L486.90,346.77 L487.20,353.48 L487.50,342.60 L487.80,341.03 L488.10,347.81 L488.40,359.42 L488.70,352.65 L489.00,365.86 L489.30,340.07 L489.60,364.99 L489.90,345.92 L490.20,356.63 L490.50,356.55 L490.80,362.56 L491.10,347.43 L491.40,345.37 L491.70,362.31 L492.00,342.98 L492.30,364.85 L492.60,339.67 L492.90,362.15 L493.20,340.68 L493.50,349.12 L493.80,364.56 L494.10,338.62 L494.40,351.57 L494.70,365.32 L495.00,354.87 L495.30,366.09 L495.60,367.86 L495.90,348.90 L496.20,348.44 L496.50,344.68 L496.80,346.39 L497.10,353.23 L497.40,360.27 L497.70,369.99 L498.00,350.32 L498.30,367.86 L498.60,368.54 L498.90,362.71 L499.20,367.14 L499.50,373.69 L499.80,366.78 L500.10,372.86 L500.40,379.48 L500.70,371.80 L501.00,358.63 L501.30,380.15 L501.60,385.46 L501.90,393.41 L502.20,371.53 L502.50,359.12 L502.80,362.96 L503.10,382.90 L503.40,377.93 L503.70,366.30 L504.00,371.70 L504.30,372.62 L504.60,371.62 L504.90,392.22 L505.20,377.37 L505.50,385.77 L505.80,384.60 L506.10,371.14 L506.40,376.30 L506.70,378.18 L507.00,371.16 L507.30,378.39 L507.60,388.31 L507.90,376.80 L508.20,380.24 L508.50,370.15 L508.80,371.17 L509.10,391.41 L509.40,377.00 L509.70,388.59 L510.00,385.49 L510.30,362.52 L510.60,378.93 L510.90,367.76 L511.20,373.76 L511.50,359.18 L511.80,368.12 L512.10,364.33 L512.40,377.71 L512.70,362.47 L513.00,361.66 L513.30,352.90 L513.60,356.44 L513.90,356.26 L514.20,371.46 L514.50,343.41 L514.80,362.25 L515.10,289.00 L515.40,357.65 L515.70,334.69 L516.00,347.76 L516.30,354.41 L516.60,335.27 L516.90,345.39 L517.20,323.63 L517.50,331.18 L517.80,333.10 L518.10,314.01 L518.40,322.10 L518.70,312.64 L519.00,321.76 L519.30,322.41 L519.60,317.06 L519.90,311.00 L520.20,321.62 L520.50,307.91 L520.80,319.52 L521.10,317.46 L521.40,311.90 L521.70,312.10 L522.00,304.29 L522.30,307.25 L522.60,301.87 L522.90,311.35 L523.20,305.84 L523.50,325.79 L523.80,317.41 L524.10,303.27 L524.40,310.23 L524.70,306.21 L525.00,311.41 L525.30,321.11 L525.60,322.68 L525.90,315.27 L526.20,305.38 L526.50,325.19 L526.80,309.02 L527.10,320.52 L527.40,311.21 L527.70,324.54 L528.00,312.59 L528.30,310.03 L528.60,302.92 L528.90,325.01 L529.20,320.27 L529.50,320.55 L529.80,297.35 L530.10,294.48 L530.40,329.31 L530.70,312.53 L531.00,306.51 L531.30,296.01 L531.60,320.98 L531.90,300.15 L532.20,292.00 L532.50,321.51 L532.80,300.75 L533.10,298.18 L533.40,323.84 L533.70,324.84 L534.00,309.26 L534.30,296.33 L534.60,300.25 L534.90,309.66 L535.20,299.31 L535.50,288.26 L535.80,313.00 L536.10,302.11 L536.40,309.80 L536.70,300.36 L537.00,312.67 L537.30,304.29 L537.60,312.06 L537.90,312.07 L538.20,302.18 L538.50,278.81 L538.80,304.81 L539.10,296.59 L539.40,292.11 L539.70,284.65 L540.00,287.58 L540.30,297.19 L540.60,290.39 L540.90,305.79 L541.20,293.48 L541.50,282.14 L541.80,291.98 L542.10,295.80 L542.40,289.96 L542.70,287.40 L543.00,280.79 L543.30,284.27 L543.60,292.03 L543.90,301.00 L544.20,298.08 L544.50,298.13 L544.80,290.88 L545.10,264.00 L545.40,285.94 L545.70,298.50 L546.00,290.62 L546.30,282.12 L546.60,301.74 L546.90,290.22 L547.20,299.41 L547.50,310.17 L547.80,306.80 L548.10,303.73 L548.40,305.79 L548.70,310.15 L549.00,286.97 L549.30,283.49 L549.60,292.57 L549.90,288.25 L550.20,309.79 L550.50,307.71 L550.80,299.79 L551.10,289.47 L551.40,304.40 L551.70,301.50 L552.00,298.19 L552.30,287.80 L552.60,291.98 L552.90,315.16 L553.20,290.48 L553.50,298.89 L553.80,291.89 L554.10,307.83 L554.40,307.79 L554.70,292.55 L555.00,291.57 L555.30,296.91 L555.60,290.57 L555.90,310.51 L556.20,285.01 L556.50,290.22 L556.80,302.11 L557.10,276.84 L557.40,306.75 L557.70,311.70 L558.00,283.24 L558.30,306.35 L558.60,283.54 L558.90,286.40 L559.20,304.09 L559.50,280.81 L559.80,301.69 L560.10,281.30 L560.40,281.28 L560.70,280.88 L561.00,306.93 L561.30,303.85 L561.60,290.22 L561.90,310.96 L562.20,280.52 L562.50,290.26 L562.80,297.36 L563.10,282.87 L563.40,272.00 L563.70,286.74 L564.00,286.66 L564.30,287.79 L564.60,302.78 L564.90,287.78 L565.20,299.20 L565.50,278.03 L565.80,291.06 L566.10,291.03 L566.40,293.16 L566.70,280.27 L567.00,299.54 L567.30,283.49 L567.60,292.44 L567.90,286.18 L568.20,297.93 L568.50,286.06 L568.80,307.43 L569.10,289.70 L569.40,312.57 L569.70,299.25 L570.00,313.05 L570.30,312.89 L570.60,310.99 L570.90,310.32 L571.20,299.38 L571.50,312.61 L571.80,294.77 L572.10,304.26 L572.40,292.91 L572.70,311.46 L573.00,291.44 L573.30,319.58 L573.60,309.13 L573.90,310.41 L574.20,304.65 L574.50,305.26 L574.80,306.34 L575.10,294.09 L575.40,308.52 L575.70,317.19 L576.00,308.48 L576.30,309.38 L576.60,299.48 L576.90,298.83 L577.20,293.91 L577.50,318.98 L577.80,312.76 L578.10,312.98 L578.40,326.84 L578.70,324.48 L579.00,321.17 L579.30,305.47 L579.60,314.86 L579.90,328.04 L580.20,324.65 L580.50,303.42 L580.80,324.57 L581.10,329.22 L581.40,327.23 L581.70,318.26 L582.00,309.87 L582.30,319.24 L582.60,305.60 L582.90,309.76 L583.20,325.75 L583.50,310.85 L583.80,309.68 L584.10,325.75 L584.40,333.28 L584.70,324.93 L585.00,311.10 L585.30,327.29 L585.60,332.76 L585.90,338.98 L586.20,320.50 L586.50,323.40 L586.80,340.89 L587.10,339.97 L587.40,339.28 L587.70,333.85 L588.00,318.95 L588.30,331.50 L588.60,342.87 L588.90,307.34 L589.20,323.14 L589.50,330.49 L589.80,323.93 L590.10,326.32 L590.40,308.46 L590.70,329.72 L591.00,320.97 L591.30,325.16 L591.60,346.51 L591.90,342.13" fill="none" stroke="#f6a2d3" stroke-width="0.75"/>
<line x1="477.6" y1="256.2" x2="477.6" y2="406" stroke="#4a4a4a" stroke-width="1.05" stroke-dasharray="4,2.6"/>
<line x1="496.1" y1="256.2" x2="496.1" y2="406" stroke="#4a4a4a" stroke-width="1.05" stroke-dasharray="4,2.6"/>
<line x1="520.5" y1="256.2" x2="520.5" y2="406" stroke="#4a4a4a" stroke-width="1.05" stroke-dasharray="4,2.6"/>
<line x1="538.5" y1="256.2" x2="538.5" y2="406" stroke="#4a4a4a" stroke-width="1.05" stroke-dasharray="4,2.6"/>
<line x1="544.7" y1="256.2" x2="544.7" y2="406" stroke="#4a4a4a" stroke-width="1.05" stroke-dasharray="4,2.6"/>
<line x1="562.6" y1="256.2" x2="562.6" y2="406" stroke="#4a4a4a" stroke-width="1.05" stroke-dasharray="4,2.6"/>
<line x1="569.2" y1="256.2" x2="569.2" y2="406" stroke="#4a4a4a" stroke-width="1.05" stroke-dasharray="4,2.6"/>
<line x1="592.0" y1="256.2" x2="592.0" y2="406" stroke="#4a4a4a" stroke-width="1.05" stroke-dasharray="4,2.6"/>
<path d="M435.00,356.10 C436.23,358.37 440.35,368.25 442.40,369.70 C444.45,371.15 445.47,367.65 447.30,364.80 C449.13,361.95 451.35,353.18 453.40,352.60 C455.45,352.02 456.82,356.93 459.60,361.30 C462.38,365.67 467.18,376.32 470.10,378.80 C473.02,381.28 474.48,377.50 477.10,376.20 C479.72,374.90 483.03,370.57 485.80,371.00 C488.57,371.43 491.07,375.15 493.70,378.80 C496.33,382.45 499.12,390.02 501.60,392.90 C504.08,395.78 506.02,397.10 508.60,396.10 C511.18,395.10 514.67,391.30 517.10,386.90 C519.53,382.50 520.97,373.70 523.20,369.70 C525.43,365.70 527.65,361.75 530.50,362.90 C533.35,364.05 536.42,381.17 540.30,376.60 C544.18,372.03 549.60,337.13 553.80,335.50 C558.00,333.87 562.25,365.98 565.50,366.80 C568.75,367.62 570.37,348.95 573.30,340.40 C576.23,331.85 580.05,315.50 583.10,315.50 C586.15,315.50 590.18,336.25 591.60,340.40" fill="none" stroke="#4f89c0" stroke-width="2.4"/>
<path d="M435.00,360.40 C436.17,359.10 439.07,353.97 442.00,352.60 C444.93,351.23 448.50,352.85 452.60,352.20 C456.70,351.55 462.52,348.93 466.60,348.70 C470.68,348.47 473.90,350.10 477.10,350.80 C480.30,351.50 483.03,352.67 485.80,352.90 C488.57,353.13 491.80,351.67 493.70,352.20 C495.60,352.73 495.88,352.53 497.20,356.10 C498.52,359.67 499.92,368.88 501.60,373.60 C503.28,378.32 505.33,386.27 507.30,384.40 C509.27,382.53 511.57,371.77 513.40,362.40 C515.23,353.03 516.87,336.55 518.30,328.20 C519.73,319.85 520.37,314.53 522.00,312.30 C523.63,310.07 525.87,315.82 528.10,314.80 C530.33,313.78 532.95,309.33 535.40,306.20 C537.85,303.07 539.95,296.40 542.80,296.00 C545.65,295.60 548.83,304.02 552.50,303.80 C556.17,303.58 561.33,293.88 564.80,294.70 C568.27,295.52 570.67,304.55 573.30,308.70 C575.93,312.85 577.55,315.13 580.60,319.60 C583.65,324.07 589.77,332.85 591.60,335.50" fill="none" stroke="#9b3a9e" stroke-width="2.4"/>
<rect x="434" y="253.8" width="1.3" height="153.3" fill="#111"/>
<rect x="434" y="406.2" width="161.5" height="1.3" fill="#111"/>
<rect x="427.2" y="275.4" width="7" height="1.2" fill="#111"/>
<text x="425.20" y="279.60" font-size="10.00" fill="#111" text-anchor="end" font-weight="normal" >6</text>
<rect x="427.2" y="319.8" width="7" height="1.2" fill="#111"/>
<text x="425.20" y="324.00" font-size="10.00" fill="#111" text-anchor="end" font-weight="normal" >4</text>
<rect x="427.2" y="364.2" width="7" height="1.2" fill="#111"/>
<text x="425.20" y="368.40" font-size="10.00" fill="#111" text-anchor="end" font-weight="normal" >2</text>
<rect x="434.0" y="406.5" width="1.2" height="6.2" fill="#111"/>
<rect x="514.0" y="406.5" width="1.2" height="6.2" fill="#111"/>
<rect x="594.3" y="406.5" width="1.2" height="6.2" fill="#111"/>
<text x="431.70" y="426.60" font-size="10.20" fill="#111" text-anchor="middle" font-weight="normal" >-0.5 kb</text>
<text x="514.80" y="427.60" font-size="12.40" fill="#111" text-anchor="middle" font-weight="normal" >TSS</text>
<text x="594.60" y="426.60" font-size="10.20" fill="#111" text-anchor="middle" font-weight="normal" >0.5 kb</text>
<text x="622.40" y="254.20" font-size="10.20" fill="#111" text-anchor="middle" font-weight="normal" >6mA</text>
<rect x="611.9" y="257.3" width="24.5" height="5.7" rx="2.85" fill="#dc8ec6"/>
<text x="631.20" y="278.70" font-size="10.20" fill="#111" text-anchor="middle" font-weight="normal" >Nucleosome</text>
<rect x="611.9" y="281" width="24.5" height="6" rx="3" fill="#5483c0"/>
<text x="10.50" y="448.50" font-size="15.00" fill="#000" text-anchor="start" font-weight="bold" >d</text>
<rect x="53.9" y="469" width="1.2" height="169.4" fill="#111"/>
<rect x="53.9" y="637.1" width="233.4" height="1.2" fill="#111"/>
<rect x="47.9" y="602.7" width="6.6" height="1.1" fill="#111"/>
<text x="42.90" y="607.00" font-size="10.50" fill="#111" text-anchor="end" font-weight="normal" >1</text>
<rect x="47.9" y="569.2" width="6.6" height="1.1" fill="#111"/>
<text x="42.90" y="573.50" font-size="10.50" fill="#111" text-anchor="end" font-weight="normal" >2</text>
<rect x="47.9" y="535.7" width="6.6" height="1.1" fill="#111"/>
<text x="42.90" y="540.00" font-size="10.50" fill="#111" text-anchor="end" font-weight="normal" >3</text>
<rect x="47.9" y="502.2" width="6.6" height="1.1" fill="#111"/>
<text x="42.90" y="506.50" font-size="10.50" fill="#111" text-anchor="end" font-weight="normal" >4</text>
<rect x="47.9" y="468.7" width="6.6" height="1.1" fill="#111"/>
<text x="42.90" y="473.00" font-size="10.50" fill="#111" text-anchor="end" font-weight="normal" >5</text>
<rect x="53.9" y="637.5" width="1.2" height="6.5" fill="#111"/>
<rect x="172.8" y="637.5" width="1.2" height="6.5" fill="#111"/>
<rect x="286.1" y="637.5" width="1.2" height="6.5" fill="#111"/>
<text x="54.50" y="656.20" font-size="10.00" fill="#111" text-anchor="middle" font-weight="normal" >-1.5 kb</text>
<text x="173.40" y="656.20" font-size="10.00" fill="#111" text-anchor="middle" font-weight="normal" >TSS</text>
<text x="286.70" y="656.20" font-size="10.00" fill="#111" text-anchor="middle" font-weight="normal" >1.5 kb</text>
<text transform="translate(26.6,545) rotate(-90)" font-size="10.7" text-anchor="middle" fill="#111">Normalized occupancy</text>
<text x="64.60" y="476.30" font-size="12.00" fill="#d262b2" text-anchor="start" font-weight="normal" >6mA</text>
<rect x="410.9" y="469" width="1.2" height="169.4" fill="#111"/>
<rect x="410.9" y="637.1" width="233.4" height="1.2" fill="#111"/>
<rect x="404.9" y="602.7" width="6.6" height="1.1" fill="#111"/>
<text x="399.90" y="607.00" font-size="10.50" fill="#111" text-anchor="end" font-weight="normal" >1</text>
<rect x="404.9" y="569.2" width="6.6" height="1.1" fill="#111"/>
<text x="399.90" y="573.50" font-size="10.50" fill="#111" text-anchor="end" font-weight="normal" >2</text>
<rect x="404.9" y="535.7" width="6.6" height="1.1" fill="#111"/>
<text x="399.90" y="540.00" font-size="10.50" fill="#111" text-anchor="end" font-weight="normal" >3</text>
<rect x="404.9" y="502.2" width="6.6" height="1.1" fill="#111"/>
<text x="399.90" y="506.50" font-size="10.50" fill="#111" text-anchor="end" font-weight="normal" >4</text>
<rect x="404.9" y="468.7" width="6.6" height="1.1" fill="#111"/>
<text x="399.90" y="473.00" font-size="10.50" fill="#111" text-anchor="end" font-weight="normal" >5</text>
<rect x="410.9" y="637.5" width="1.2" height="6.5" fill="#111"/>
<rect x="529.6" y="637.5" width="1.2" height="6.5" fill="#111"/>
<rect x="643.1" y="637.5" width="1.2" height="6.5" fill="#111"/>
<text x="411.50" y="656.20" font-size="10.00" fill="#111" text-anchor="middle" font-weight="normal" >-1.5 kb</text>
<text x="530.20" y="656.20" font-size="10.00" fill="#111" text-anchor="middle" font-weight="normal" >TSS</text>
<text x="643.70" y="656.20" font-size="10.00" fill="#111" text-anchor="middle" font-weight="normal" >1.5 kb</text>
<text transform="translate(383.0,545) rotate(-90)" font-size="10.7" text-anchor="middle" fill="#111">Normalized occupancy</text>
<text x="423.50" y="476.30" font-size="12.00" fill="#f29fcf" text-anchor="start" font-weight="normal" >no 6mA</text>
<path d="M54.50,522.90 C55.40,523.95 58.03,526.60 59.90,529.20 C61.77,531.80 63.77,537.33 65.70,538.50 C67.63,539.67 69.55,536.20 71.50,536.20 C73.45,536.20 75.65,539.87 77.40,538.50 C79.15,537.13 80.25,532.55 82.00,528.00 C83.75,523.45 86.33,512.75 87.90,511.20 C89.47,509.65 90.12,513.37 91.40,518.70 C92.68,524.03 93.85,544.37 95.60,543.20 C97.35,542.03 99.80,513.83 101.90,511.70 C104.00,509.57 106.07,528.33 108.20,530.40 C110.33,532.47 112.05,523.05 114.70,524.10 C117.35,525.15 121.57,535.77 124.10,536.70 C126.63,537.63 127.77,527.25 129.90,529.70 C132.03,532.15 134.87,549.65 136.90,551.40 C138.93,553.15 139.95,536.12 142.10,540.20 C144.25,544.28 147.47,572.08 149.80,575.90 C152.13,579.72 153.97,561.73 156.10,563.10 C158.23,564.47 159.95,574.45 162.60,584.10 C165.25,593.75 169.07,620.62 172.00,621.00 C174.93,621.38 178.25,593.33 180.20,586.40 C182.15,579.47 181.95,585.43 183.70,579.40 C185.45,573.37 188.57,550.55 190.70,550.20 C192.83,549.85 194.42,580.78 196.50,577.30 C198.58,573.82 201.12,532.88 203.20,529.30 C205.28,525.72 206.78,559.88 209.00,555.80 C211.22,551.72 213.78,508.07 216.50,504.80 C219.22,501.53 222.68,535.98 225.30,536.20 C227.92,536.42 230.00,505.18 232.20,506.10 C234.40,507.02 236.35,541.92 238.50,541.70 C240.65,541.48 243.02,505.60 245.10,504.80 C247.18,504.00 249.13,535.30 251.00,536.90 C252.87,538.50 254.35,513.60 256.30,514.40 C258.25,515.20 260.55,540.47 262.70,541.70 C264.85,542.93 267.00,522.65 269.20,521.80 C271.40,520.95 273.85,535.95 275.90,536.60 C277.95,537.25 279.75,528.52 281.50,525.70 C283.25,522.88 285.58,520.70 286.40,519.70" fill="none" stroke="#5487c0" stroke-width="2.7" stroke-linecap="round"/>
<path d="M411.40,529.70 C412.57,530.42 416.45,533.80 418.40,534.00 C420.35,534.20 421.08,532.97 423.10,530.90 C425.12,528.83 428.17,521.87 430.50,521.60 C432.83,521.33 435.22,527.55 437.10,529.30 C438.98,531.05 439.93,529.88 441.80,532.10 C443.67,534.32 446.17,542.92 448.30,542.60 C450.43,542.28 452.58,531.37 454.60,530.20 C456.62,529.03 458.45,535.37 460.40,535.60 C462.35,535.83 463.77,530.17 466.30,531.60 C468.83,533.03 473.07,542.57 475.60,544.20 C478.13,545.83 479.43,542.57 481.50,541.40 C483.57,540.23 486.07,536.42 488.00,537.20 C489.93,537.98 491.07,542.67 493.10,546.10 C495.13,549.53 497.87,554.28 500.20,557.80 C502.53,561.32 504.93,565.88 507.10,567.20 C509.27,568.52 511.57,564.40 513.20,565.70 C514.83,567.00 514.73,567.53 516.90,575.00 C519.07,582.47 523.75,608.45 526.20,610.50 C528.65,612.55 529.88,598.92 531.60,587.30 C533.32,575.68 534.87,552.23 536.50,540.80 C538.13,529.37 539.37,526.45 541.40,518.70 C543.43,510.95 546.45,497.63 548.70,494.30 C550.95,490.97 552.65,501.77 554.90,498.70 C557.15,495.63 560.05,478.77 562.20,475.90 C564.35,473.03 565.97,482.93 567.80,481.50 C569.63,480.07 571.07,464.77 573.20,467.30 C575.33,469.83 578.35,493.83 580.60,496.70 C582.85,499.57 584.78,485.20 586.70,484.50 C588.62,483.80 590.40,491.05 592.10,492.50 C593.80,493.95 595.05,491.12 596.90,493.20 C598.75,495.28 601.23,503.15 603.20,505.00 C605.17,506.85 606.62,502.92 608.70,504.30 C610.78,505.68 613.73,511.45 615.70,513.30 C617.67,515.15 618.55,513.90 620.50,515.40 C622.45,516.90 624.85,521.62 627.40,522.30 C629.95,522.98 633.72,519.62 635.80,519.50 C637.88,519.38 638.33,519.87 639.90,521.60 C641.47,523.33 644.32,528.52 645.20,529.90" fill="none" stroke="#5cafc0" stroke-width="2.7" stroke-linecap="round"/>
<defs><linearGradient id="hmL" x1="0" x2="1" y1="0" y2="0"><stop offset="0.0000" stop-color="#a8cccc"/><stop offset="0.0129" stop-color="#a8cccc"/><stop offset="0.0409" stop-color="#b8d4d0"/><stop offset="0.0787" stop-color="#a0c7c7"/><stop offset="0.1161" stop-color="#b0d0cd"/><stop offset="0.1652" stop-color="#b0cfcd"/><stop offset="0.2065" stop-color="#b5d2cf"/><stop offset="0.2366" stop-color="#b2d0cf"/><stop offset="0.2602" stop-color="#acccca"/><stop offset="0.2942" stop-color="#bcd6d2"/><stop offset="0.3282" stop-color="#b4d2cc"/><stop offset="0.3733" stop-color="#d2e0d8"/><stop offset="0.3957" stop-color="#cadeD6"/><stop offset="0.4409" stop-color="#d6e5dc"/><stop offset="0.4787" stop-color="#e6eddf"/><stop offset="0.5135" stop-color="#f2f5e4"/><stop offset="0.5437" stop-color="#e2eadc"/><stop offset="0.5888" stop-color="#d2e2d8"/><stop offset="0.6189" stop-color="#c0d9d2"/><stop offset="0.6529" stop-color="#d2e0d8"/><stop offset="0.6981" stop-color="#aecfce"/><stop offset="0.7355" stop-color="#c2dad4"/><stop offset="0.7441" stop-color="#bad6d2"/><stop offset="0.7751" stop-color="#a0c8c8"/><stop offset="0.8297" stop-color="#b2d0d0"/><stop offset="0.8727" stop-color="#a0c8c8"/><stop offset="0.9153" stop-color="#b6d4d0"/><stop offset="0.9544" stop-color="#a0c8c8"/><stop offset="1.0000" stop-color="#acd0cd"/></linearGradient></defs>
<rect x="55.0" y="665.8" width="232.5" height="10" fill="url(#hmL)" stroke="#2a2a2a" stroke-width="1.1"/>
<defs><linearGradient id="hmR" x1="0" x2="1" y1="0" y2="0"><stop offset="0.0000" stop-color="#b4d2d0"/><stop offset="0.0117" stop-color="#b4d2d0"/><stop offset="0.0571" stop-color="#aecfcd"/><stop offset="0.1064" stop-color="#b4d2cf"/><stop offset="0.1630" stop-color="#b8d4d0"/><stop offset="0.2196" stop-color="#bcd6d2"/><stop offset="0.2521" stop-color="#c2d8d4"/><stop offset="0.3191" stop-color="#c2dad5"/><stop offset="0.3947" stop-color="#cadcd6"/><stop offset="0.4328" stop-color="#d2e2da"/><stop offset="0.4553" stop-color="#e0e8de"/><stop offset="0.4782" stop-color="#eaf0e3"/><stop offset="0.5093" stop-color="#eef2e4"/><stop offset="0.5396" stop-color="#d4e2da"/><stop offset="0.5698" stop-color="#b2d0cc"/><stop offset="0.6079" stop-color="#a4c6c6"/><stop offset="0.6645" stop-color="#9cc2c4"/><stop offset="0.7026" stop-color="#8ebcbe"/><stop offset="0.7536" stop-color="#90bec0"/><stop offset="0.7760" stop-color="#88b8ba"/><stop offset="0.8154" stop-color="#9cc2c4"/><stop offset="0.8621" stop-color="#92bec0"/><stop offset="0.9209" stop-color="#94c0c2"/><stop offset="0.9797" stop-color="#9cc4c4"/><stop offset="1.0000" stop-color="#9cc4c4"/></linearGradient></defs>
<rect x="411.7" y="665.8" width="231.3" height="10" fill="url(#hmR)" stroke="#2a2a2a" stroke-width="1.1"/>
<defs><linearGradient id="cbar" x1="0" x2="1"><stop offset="0" stop-color="#f8f8e4"/><stop offset="0.25" stop-color="#d8e6dc"/><stop offset="0.5" stop-color="#b4d4d0"/><stop offset="0.75" stop-color="#8cbcc0"/><stop offset="1" stop-color="#68a4ac"/></linearGradient></defs>
<rect x="324.2" y="673.6" width="47.4" height="9.4" fill="url(#cbar)"/>
<rect x="324.2" y="673.1" width="47.4" height="1" fill="#222"/>
<rect x="324.2" y="682.3" width="47.4" height="1" fill="#777"/>
<rect x="323.8" y="673.1" width="1" height="12" fill="#222"/>
<rect x="371" y="673.1" width="1" height="12" fill="#222"/>
<text x="348.30" y="655.80" font-size="8.80" fill="#111" text-anchor="middle" font-weight="normal" >Average</text>
<text x="348.30" y="665.00" font-size="8.80" fill="#111" text-anchor="middle" font-weight="normal" >occupancy signal</text>
<text x="325.20" y="696.00" font-size="12.00" fill="#111" text-anchor="middle" font-weight="normal" >0</text>
<text x="370.90" y="696.00" font-size="12.00" fill="#111" text-anchor="middle" font-weight="normal" >5</text>
</svg></body></html>
